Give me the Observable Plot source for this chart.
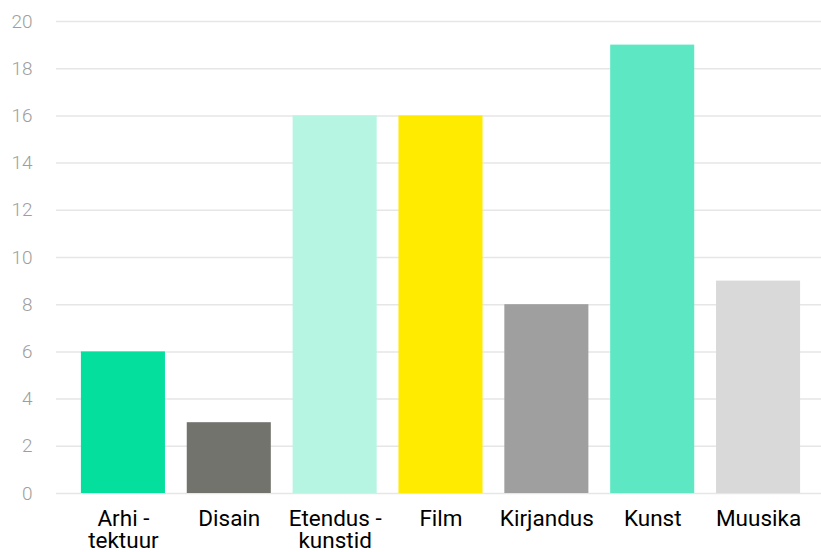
<!DOCTYPE html>
<html>
<head>
<meta charset="utf-8">
<script src="https://cdn.jsdelivr.net/npm/d3@7"></script>
<script src="https://cdn.jsdelivr.net/npm/@observablehq/plot@0.6"></script>
<style>
  html, body { margin: 0; padding: 0; background: #fff; }
  #chart svg { display: block; font-family: Roboto, sans-serif; }
</style>
</head>
<body>
<div id="chart"></div>
<script>
const categories = ["Arhi -\ntektuur", "Disain", "Etendus -\nkunstid", "Film", "Kirjandus", "Kunst", "Muusika"];
const values = [6, 3, 16, 16, 8, 19, 9];
const colors = ["#05df9e", "#72736d", "#b5f5e2", "#ffeb00", "#9f9f9f", "#5de8c3", "#d9d9d9"];
const yTicks = [0, 2, 4, 6, 8, 10, 12, 14, 16, 18, 20];

const data = categories.map((c, i) => ({category: c, value: values[i], color: colors[i]}));

const chart = Plot.plot({
  width: 821,
  height: 552,
  marginTop: 21,
  marginBottom: 59,
  marginLeft: 56,
  marginRight: 0,
  style: {fontFamily: "Roboto, sans-serif", background: "#fff"},
  x: {domain: categories, range: [70, 811], paddingInner: 0.206, paddingOuter: 0.103, round: false, label: null},
  y: {domain: [0, 20], label: null},
  marks: [
    Plot.ruleY(yTicks, {stroke: "#e6e6e6", strokeWidth: 1.5}),
    Plot.barY(data, {x: "category", y: "value", fill: "color"}),
    Plot.axisY({ticks: yTicks, tickSize: 0, tickPadding: 24, fontSize: 19, fill: "#9e9e9e", fontWeight: 300, label: null}),
    Plot.axisX({tickSize: 0, tickPadding: 17, fontSize: 22.5, fill: "#000", lineHeight: 0.98, label: null})
  ]
});
document.getElementById("chart").appendChild(chart);
</script>
</body>
</html>
